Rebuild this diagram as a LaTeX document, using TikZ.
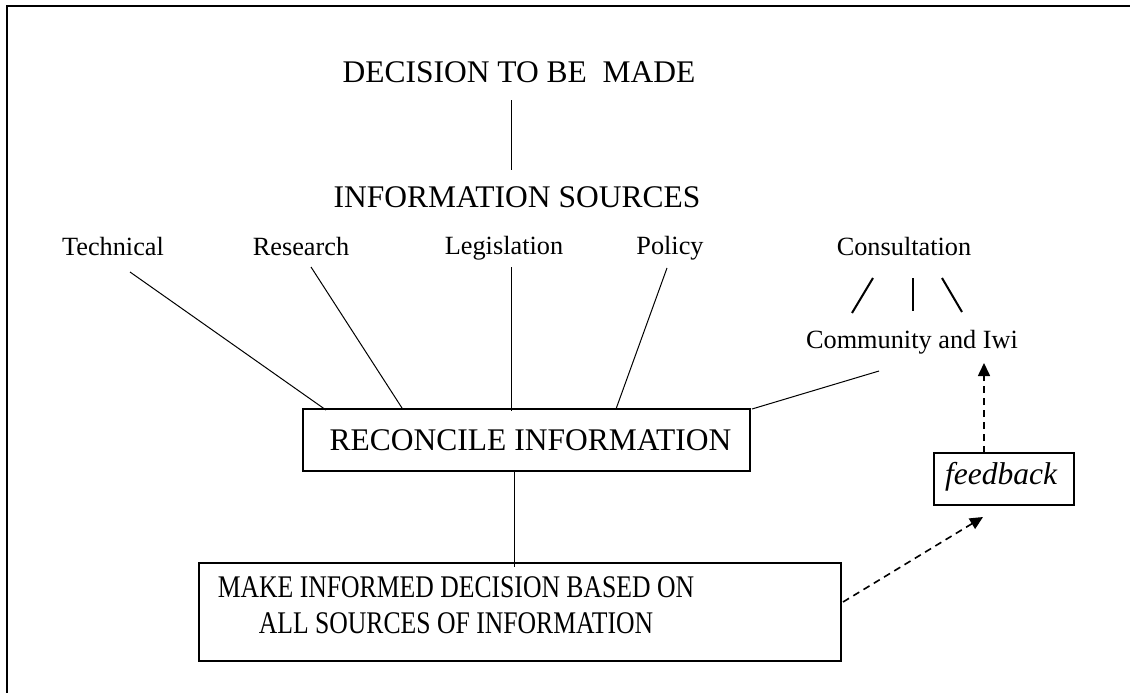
\documentclass[tikz,border=0pt]{standalone}
\usepackage{fontspec}
\setmainfont{Liberation Serif}
\usetikzlibrary{arrows.meta}
\begin{document}
\begin{tikzpicture}[x=1pt,y=-1pt,
  big/.style={font=\fontsize{31.5}{36}\selectfont, inner sep=0pt},
  small/.style={font=\fontsize{26.3}{30}\selectfont, inner sep=0pt},
  conn/.style={line width=1pt},
  thick slash/.style={line width=2pt},
  boxa/.style={draw, line width=1.3pt, inner sep=0pt},
  boxb/.style={draw, line width=2pt, inner sep=0pt},
  dasharrow/.style={line width=1.6pt, dash pattern=on 7pt off 5pt, -{Triangle[length=13pt,width=12pt]}}]
\useasboundingbox (0,0) rectangle (1130,693);
\draw[line width=2pt] (7,693) -- (7,6) -- (1130,6);

% texts
\node[big, anchor=base] (dec) at (519,83) {DECISION TO BE\ \ MADE};
\node[big, anchor=base] (src) at (517,207) {INFORMATION SOURCES};
\node[small, anchor=base] (tech) at (113,255) {Technical};
\node[small, anchor=base] (res) at (301,255) {Research};
\node[small, anchor=base] (leg) at (504,254) {Legislation};
\node[small, anchor=base] (pol) at (670,254) {Policy};
\node[small, anchor=base] (cons) at (904,255) {Consultation};
\node[small, anchor=base] (comm) at (912,348) {Community and Iwi};

% boxes
\node[boxa, minimum width=447, minimum height=62] (rec) at (526.5,440) {};
\node[big] (rectext) at (530.5,440) {RECONCILE INFORMATION};
\node[boxb, minimum width=642, minimum height=98] (make) at (520,612) {};
\node[big] (maketext) at (456,608) {\scalebox{0.815}[1]{\renewcommand\arraystretch{1}\setlength\tabcolsep{0pt}\begin{tabular}{c}MAKE INFORMED DECISION BASED ON\\ALL SOURCES OF INFORMATION\end{tabular}}};
\node[boxb, minimum width=140, minimum height=52] (fb) at (1004,479) {};
\node[big] (fbtext) at (1001,477) {\itshape feedback};

% connector end points
\coordinate (d1) at (511,100);
\coordinate (d2) at (511,170);
\coordinate (t1) at (130,272);
\coordinate (t2) at (326,410);
\coordinate (r1) at (311,267);
\coordinate (r2) at (402,408);
\coordinate (l1) at (511,267);
\coordinate (l2) at (511,411);
\coordinate (p1) at (667,268);
\coordinate (p2) at (616,409);
\coordinate (c1) at (879,371);
\coordinate (c2) at (752,409);
\coordinate (s1a) at (873,278);
\coordinate (s1b) at (852,313);
\coordinate (s2a) at (913,278);
\coordinate (s2b) at (913,311);
\coordinate (s3a) at (942,278);
\coordinate (s3b) at (962,312);
\coordinate (m1) at (514,471);
\coordinate (m2) at (514,567);
\coordinate (f1) at (984,453);
\coordinate (f2) at (984,363);
\coordinate (g1) at (843,602);
\coordinate (g2) at (983,517);

\draw[conn] (d1) -- (d2);
\draw[conn] (t1) -- (t2);
\draw[conn] (r1) -- (r2);
\draw[conn] (l1) -- (l2);
\draw[conn] (p1) -- (p2);
\draw[conn] (c1) -- (c2);
\draw[thick slash] (s1a) -- (s1b);
\draw[thick slash] (s2a) -- (s2b);
\draw[thick slash] (s3a) -- (s3b);
\draw[conn] (m1) -- (m2);
\draw[dasharrow] (f1) -- (f2);
\draw[dasharrow] (g1) -- (g2);
\end{tikzpicture}
\end{document}
